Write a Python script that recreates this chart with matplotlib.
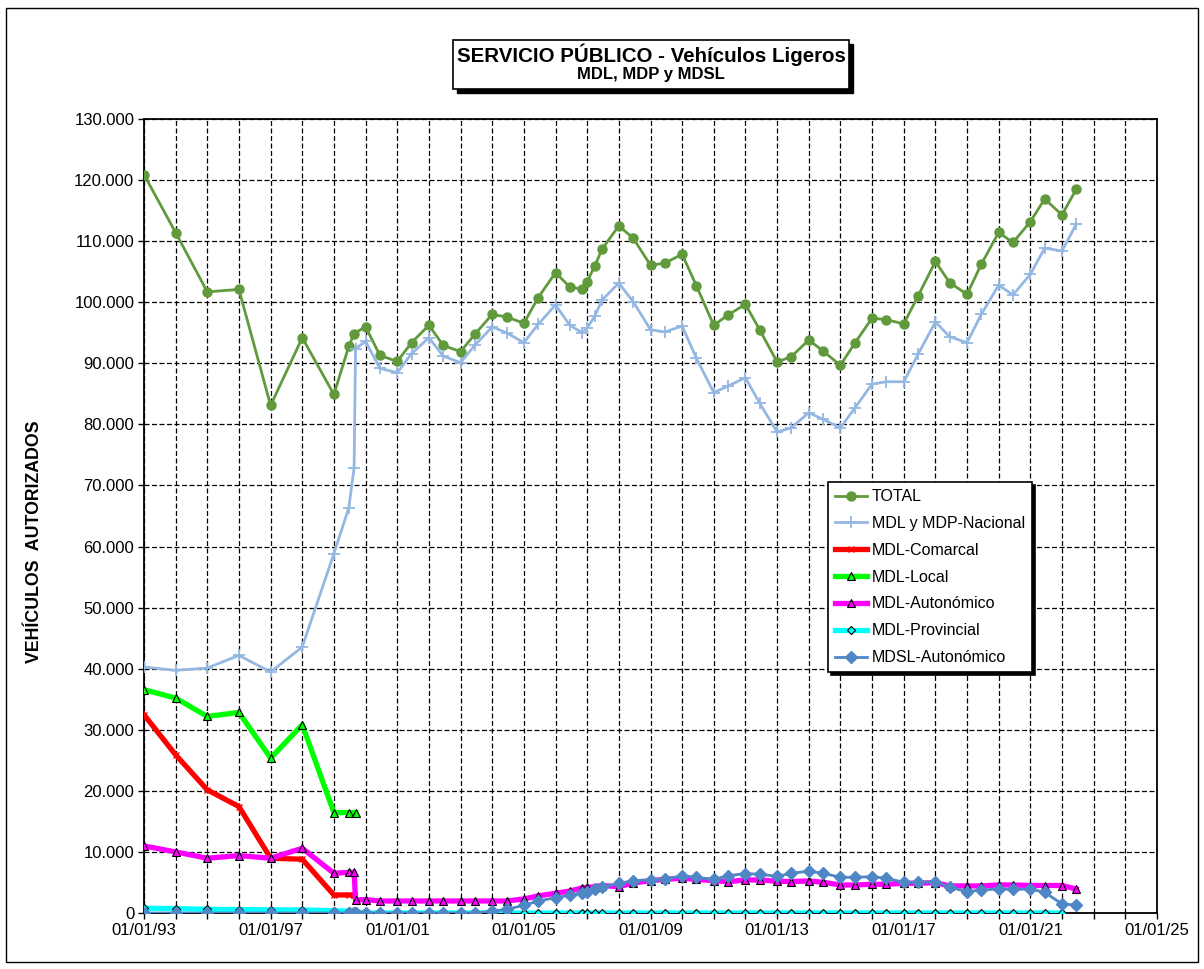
import numpy as np
import matplotlib
matplotlib.use("Agg")
import matplotlib.pyplot as plt
import matplotlib.dates as mdates
from matplotlib.patches import Rectangle
from matplotlib.ticker import FuncFormatter, FixedLocator
import datetime as dt

plt.rcParams['font.family'] = ['Liberation Sans', 'DejaVu Sans']

nan = np.nan

dates = ['1993-01-01', '1994-01-01', '1995-01-01', '1996-01-01', '1997-01-01',
         '1998-01-01', '1999-01-01', '1999-06-22', '1999-08-22', '1999-09-08',
         '2000-01-01', '2000-06-15', '2001-01-01', '2001-06-15', '2002-01-01',
         '2002-06-15', '2003-01-01', '2003-06-15', '2004-01-01', '2004-06-15',
         '2005-01-01', '2005-06-15', '2006-01-01', '2006-06-15', '2006-11-05',
         '2006-12-31', '2007-03-31', '2007-06-22', '2008-01-01', '2008-06-15',
         '2009-01-01', '2009-06-15', '2010-01-01', '2010-06-15', '2011-01-01',
         '2011-06-15', '2012-01-01', '2012-06-15', '2013-01-01', '2013-06-15',
         '2014-01-01', '2014-06-15', '2015-01-01', '2015-06-15', '2016-01-01',
         '2016-06-15', '2017-01-01', '2017-06-15', '2018-01-01', '2018-06-15',
         '2019-01-01', '2019-06-15', '2020-01-01', '2020-06-15', '2021-01-01',
         '2021-06-15', '2022-01-01', '2022-06-15']

total = [120900, 111400, 101700, 102100, 83100, 94200, 84900, 92800, 94850, nan,
         96000, 91300, 90300, 93380, 96230, 92950, 91900, 94750, 98000, 97600,
         96560, 100760, 104850, 102500, 102130, 103380, 105950, 108700, 112500, 110500,
         106050, 106400, 107870, 102670, 96230, 97920, 99660, 95460, 90210, 91100,
         93820, 92020, 89670, 93280, 97380, 97150, 96450, 101020, 106670, 103200,
         101300, 106230, 111420, 109780, 113200, 116900, 114300, 118520]

nacional = [40280, 39720, 40110, 42180, 39460, 43560, 58850, 66340, 72900, 92400,
            93600, 89180, 88460, 91580, 94200, 91200, 90100, 92950, 95950, 95000,
            93380, 96400, 99550, 96230, 95000, 95740, 97750, 100360, 103150, 100100,
            95500, 95130, 96100, 90820, 85200, 86280, 87640, 83440, 78740, 79460,
            81920, 80820, 79460, 82650, 86600, 86980, 86980, 91470, 96770, 94360,
            93380, 98030, 102790, 101200, 104590, 108850, 108400, 112790]

comarcal = [32460, 25900, 20160, 17430, 8970, 8800, 2950, 2950, 2950] + [nan] * 49

local = [36560, 35190, 32180, 32840, 25360, 30820, 16440, 16440, nan, 16440] + [nan] * 48

autonomico = [10980, 10000, 8970, 9400, 8970, 10600, 6500, 6660, 6660, 2130,
              2200, 1970, 1970, 1970, 1970, 1970, 1970, 1970, 1970, 1970,
              2300, 2800, 3230, 3600, 4100, 4200, 4300, 4500, 4300, 4900,
              5300, 5500, 5700, 5500, 5300, 5130, 5410, 5410, 5200, 5150,
              5250, 5030, 4590, 4590, 4700, 4700, 4870, 4870, 4970, 4430,
              4430, 4430, 4590, 4590, 4500, 4500, 4500, 3930]

provincial = [780, 720, 600, 560, 520, 500, 380, 300, 250, 200] + [0] * 47 + [nan]

mdsl = [0] * 18 + [300, 600,
        1250, 1950, 2500, 2900, 3250, 3500, 3900, 4250, 4850, 5300,
        5450, 5550, 6100, 5850, 5500, 6100, 6450, 6350, 6000, 6500,
        6850, 6500, 5850, 5850, 5950, 5700, 5030, 5030, 5130, 4210,
        3500, 3770, 3930, 3850, 3930, 3390, 1475, 1310]

labels = ['TOTAL', 'MDL y MDP-Nacional', 'MDL-Comarcal', 'MDL-Local',
          'MDL-Autonómico', 'MDL-Provincial', 'MDSL-Autonómico']
xtick_years = [1993, 1997, 2001, 2005, 2009, 2013, 2017, 2021, 2025]

title1 = 'SERVICIO PÚBLICO - Vehículos Ligeros'
title2 = 'MDL, MDP y MDSL'
ylabel = 'VEHÍCULOS  AUTORIZADOS'

W, H = 1204, 969
fig = plt.figure(figsize=(W / 100, H / 100), dpi=100)
ax = fig.add_axes([144 / W, 1 - 913 / H, (1157 - 144) / W, (913 - 119) / H])

x = np.array([dt.datetime.strptime(d, '%Y-%m-%d') for d in dates])

styles = [
    dict(color='#609A3C', lw=2.0, marker='o', ms=6.5, mfc='#609A3C', mec='#609A3C'),
    dict(color='#95B8E3', lw=2.0, marker='+', ms=9, mew=1.3, mec='#95B8E3'),
    dict(color='#FF0000', lw=3.8, marker='x', ms=5, mew=1.0, mec='#FF0000'),
    dict(color='#00FF00', lw=3.8, marker='^', ms=5.5, mfc='#00FF00', mec='black', mew=0.8),
    dict(color='#FF00FF', lw=3.8, marker='^', ms=5.5, mfc='#FF00FF', mec='black', mew=0.8),
    dict(color='#00FFFF', lw=3.8, marker='D', ms=4, mfc='#00FFFF', mec='black', mew=0.8),
    dict(color='#4F86C6', lw=2.0, marker='D', ms=6, mfc='#4F86C6', mec='#4F86C6'),
]
series = [total, nacional, comarcal, local, autonomico, provincial, mdsl]

handles = []
for vals, st, lab in zip(series, styles, labels):
    v = np.array(vals, dtype=float)
    m = ~np.isnan(v)
    h, = ax.plot(x[m], v[m], label=lab, zorder=3, **st)
    handles.append(h)

ax.set_xlim(dt.datetime(1993, 1, 1), dt.datetime(2025, 1, 1))
ax.set_ylim(0, 130000)
ax.xaxis.set_major_locator(FixedLocator([mdates.date2num(dt.datetime(y, 1, 1)) for y in xtick_years]))
ax.xaxis.set_major_formatter(mdates.DateFormatter('%d/%m/%y'))
ax.xaxis.set_minor_locator(FixedLocator([mdates.date2num(dt.datetime(y, 1, 1)) for y in range(1993, 2026)]))
ax.yaxis.set_major_locator(FixedLocator(list(range(0, 130001, 10000))))
ax.yaxis.set_major_formatter(FuncFormatter(lambda v, p: f"{int(v):,}".replace(',', '.')))

grid_kw = dict(color='black', linestyle=(0, (4, 2)), linewidth=0.9)
ax.grid(True, which='major', axis='both', **grid_kw)
ax.grid(True, which='minor', axis='x', **grid_kw)
ax.set_axisbelow(True)
for s in ax.spines.values():
    s.set_linewidth(1.3)
    s.set_color('black')

ax.tick_params(axis='both', which='major', labelsize=12, length=4, width=1, direction='out', pad=3)
ax.tick_params(axis='x', which='minor', length=4, width=1, direction='out')

fig.text(35 / W, 1 - 542 / H, ylabel, rotation=90, ha='center', va='center',
         fontsize=12.8, fontweight='bold')

# title box with shadow
bx0, by0, bx1, by1 = 453, 40, 849, 89
fig.patches.append(Rectangle((bx0 / W + 4 / W, 1 - (by1 + 4) / H), (bx1 - bx0) / W, (by1 - by0) / H,
                             transform=fig.transFigure, facecolor='black', edgecolor='black', zorder=1))
fig.patches.append(Rectangle((bx0 / W, 1 - by1 / H), (bx1 - bx0) / W, (by1 - by0) / H,
                             transform=fig.transFigure, facecolor='white', edgecolor='black',
                             lw=1.2, zorder=2))
fig.text((bx0 + bx1) / 2 / W, 1 - 55 / H, title1, ha='center', va='center',
         fontsize=14.8, fontweight='bold', zorder=3)
fig.text((bx0 + bx1) / 2 / W, 1 - 75 / H, title2, ha='center', va='center',
         fontsize=12, fontweight='bold', zorder=3)

leg = ax.legend(handles=handles, loc='upper left',
                bbox_to_anchor=(828 / W, 1 - 482 / H), bbox_transform=fig.transFigure,
                fontsize=11.5, frameon=True, fancybox=False, edgecolor='black',
                framealpha=1, shadow=dict(color='black', alpha=1.0),
                handlelength=2.0, labelspacing=0.74, borderpad=0.45, handletextpad=0.3,
                borderaxespad=0)
leg.get_frame().set_linewidth(1.2)
leg.set_zorder(10)

# outer figure border
fig.patches.append(Rectangle((6 / W, 1 - 962 / H), 1192 / W, 954 / H, transform=fig.transFigure,
                             facecolor='none', edgecolor='black', lw=1.0))

fig.savefig('out.png', dpi=100)
